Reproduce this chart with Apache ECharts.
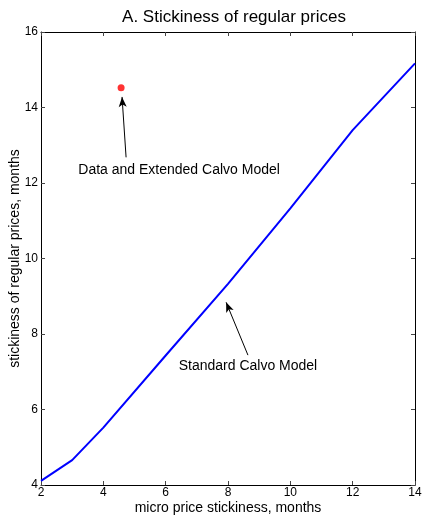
<!DOCTYPE html>
<html><head><meta charset="utf-8">
<script src="https://cdn.jsdelivr.net/npm/echarts@6/dist/echarts.min.js"></script>
<style>html,body{margin:0;padding:0;background:#fff}#c{width:422px;height:515px}</style>
</head><body><div id="c"></div>
<script>
var title = 'A. Stickiness of regular prices';
var xName = 'micro price stickiness, months';
var yName = 'stickiness of regular prices, months';
var calvoX = [2, 3, 4, 6, 8, 10, 12, 14];
var calvoY = [4.11, 4.66, 5.52, 7.43, 9.33, 11.33, 13.4, 15.17];
var dataPoint = [4.57, 14.52];
var ann1Text = 'Data and Extended Calvo Model';
var ann1From = [4.73, 12.68];
var ann1To = [4.6, 14.28];
var ann1Pos = [6.43, 12.34];
var ann2Text = 'Standard Calvo Model';
var ann2From = [8.64, 7.44];
var ann2To = [7.94, 8.84];
var ann2Pos = [8.64, 7.15];

var font = 'Liberation Sans, Arial, Helvetica, sans-serif';
var chart = echarts.init(document.getElementById('c'), null, {renderer: 'canvas'});
var calvo = calvoX.map(function (x, i) { return [x, calvoY[i]]; });
var axBase = {
  type: 'value', min: 0, max: 0, interval: 2,
  axisLine: {show: true, onZero: false, lineStyle: {color: '#000', width: 1}},
  axisTick: {show: true, inside: true, length: 4, lineStyle: {color: '#444'}},
  splitLine: {show: false}
};
function ax(o) { return Object.assign({}, JSON.parse(JSON.stringify(axBase)), o); }
chart.setOption({
  animation: false,
  title: {text: title, left: 229, top: 4, textAlign: 'center',
    textStyle: {fontFamily: font, fontSize: 17, fontWeight: 'normal', color: '#000'}},
  grid: {left: 41, right: 7, top: 32, bottom: 30, containLabel: false, outerBoundsMode: 'none'},
  xAxis: [
    ax({min: 2, max: 14, position: 'bottom', name: xName, nameLocation: 'middle', nameGap: 16,
      nameMoveOverlap: false,
      nameTextStyle: {fontFamily: font, fontSize: 14, color: '#000'},
      axisLabel: {fontFamily: font, fontSize: 12, color: '#000', margin: 2}}),
    ax({min: 2, max: 14, position: 'top', axisLabel: {show: false}})
  ],
  yAxis: [
    ax({min: 4, max: 16, position: 'left', name: yName, nameLocation: 'middle', nameGap: 19,
      nameMoveOverlap: false,
      nameTextStyle: {fontFamily: font, fontSize: 14, color: '#000'},
      axisLabel: {fontFamily: font, fontSize: 12, color: '#000', margin: 3}}),
    ax({min: 4, max: 16, position: 'right', axisLabel: {show: false}})
  ],
  series: [
    {type: 'line', data: calvo, symbol: 'none', lineStyle: {color: '#0000ff', width: 2}, z: 3,
      markLine: {silent: true, symbol: ['none', 'arrow'], symbolSize: [6, 10],
        lineStyle: {color: '#000', width: 1, type: 'solid'}, label: {show: false},
        data: [[{coord: ann1From}, {coord: ann1To}], [{coord: ann2From}, {coord: ann2To}]]}},
    {type: 'scatter', data: [dataPoint], symbol: 'circle', symbolSize: 7,
      itemStyle: {color: '#ff0000'}, z: 4}
  ]
});
var p1 = chart.convertToPixel({xAxisIndex: 0, yAxisIndex: 0}, ann1Pos);
var p2 = chart.convertToPixel({xAxisIndex: 0, yAxisIndex: 0}, ann2Pos);
chart.setOption({graphic: [
  {type: 'text', x: p1[0], y: p1[1], style: {text: ann1Text, fontFamily: font, fontSize: 14,
    fill: '#000', align: 'center', verticalAlign: 'middle'}},
  {type: 'text', x: p2[0], y: p2[1], style: {text: ann2Text, fontFamily: font, fontSize: 14,
    fill: '#000', align: 'center', verticalAlign: 'middle'}}
]});
</script></body></html>
